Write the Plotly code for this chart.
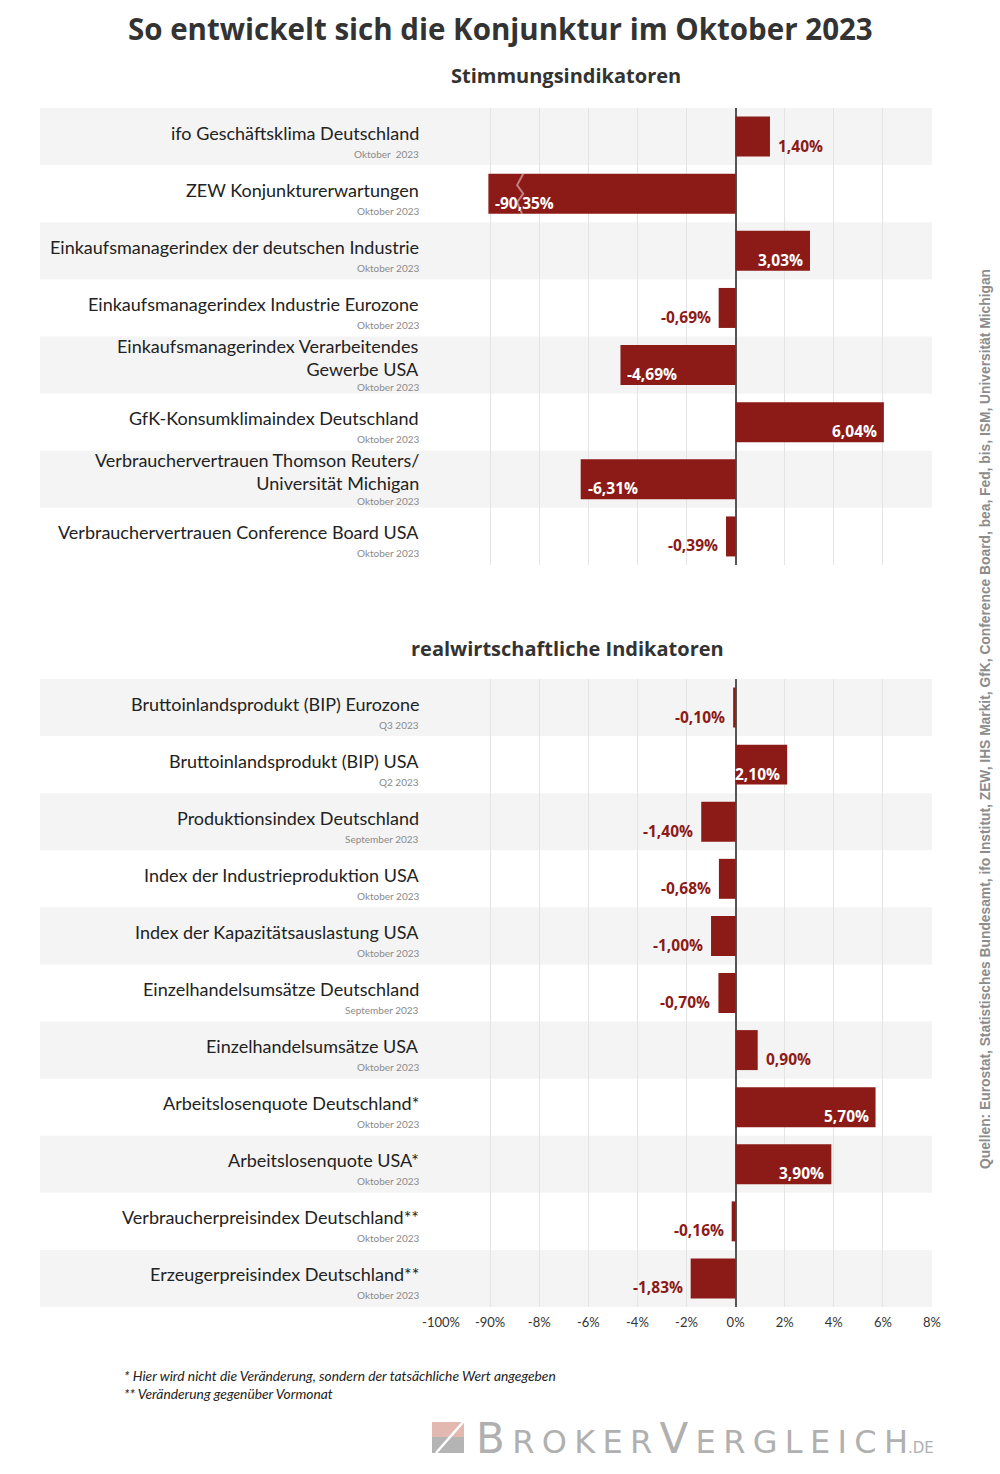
import plotly.graph_objects as go

# ---------------- data ----------------
top_labels = [
    "ifo Geschäftsklima Deutschland",
    "ZEW Konjunkturerwartungen",
    "Einkaufsmanagerindex der deutschen Industrie",
    "Einkaufsmanagerindex Industrie Eurozone",
    "Einkaufsmanagerindex Verarbeitendes<br>Gewerbe USA",
    "GfK-Konsumklimaindex Deutschland",
    "Verbrauchervertrauen Thomson Reuters/<br>Universität Michigan",
    "Verbrauchervertrauen Conference Board USA",
]
top_periods = ["Oktober  2023"] + ["Oktober 2023"] * 7
top_values = [1.40, -90.35, 3.03, -0.69, -4.69, 6.04, -6.31, -0.39]

bot_labels = [
    "Bruttoinlandsprodukt (BIP) Eurozone",
    "Bruttoinlandsprodukt (BIP) USA",
    "Produktionsindex Deutschland",
    "Index der Industrieproduktion USA",
    "Index der Kapazitätsauslastung USA",
    "Einzelhandelsumsätze Deutschland",
    "Einzelhandelsumsätze USA",
    "Arbeitslosenquote Deutschland*",
    "Arbeitslosenquote USA*",
    "Verbraucherpreisindex Deutschland**",
    "Erzeugerpreisindex Deutschland**",
]
bot_periods = ["Q3 2023", "Q2 2023", "September 2023", "Oktober 2023", "Oktober 2023",
               "September 2023", "Oktober 2023", "Oktober 2023", "Oktober 2023",
               "Oktober 2023", "Oktober 2023"]
bot_values = [-0.10, 2.10, -1.40, -0.68, -1.00, -0.70, 0.90, 5.70, 3.90, -0.16, -1.83]

tick_values = [-100, -90, -8, -6, -4, -2, 0, 2, 4, 6, 8]
tick_labels = ["-100%", "-90%", "-8%", "-6%", "-4%", "-2%", "0%", "2%", "4%", "6%", "8%"]

# ---------------- styling ----------------
BAR = "#8c1a17"
TXT = "#222222"
BAND = "#f4f4f4"
GRID = "#e4e4e4"
LABEL_FONT = "Lato"
W, H = 1000, 1474


def axis_pos(v):
    """Broken axis: -100..-90 is squeezed into the slot left of -8."""
    if v >= -8:
        return v
    return -10 + (v + 90) / 5.0


def fmt(v):
    return f"{v:.2f}".replace(".", ",") + "%"


def py(px):
    return 1 - px / H


fig = go.Figure()
shapes = []
annotations = []

panels = [
    dict(labels=top_labels, periods=top_periods, values=top_values, yax="y", xax="x"),
    dict(labels=bot_labels, periods=bot_periods, values=bot_values, yax="y2", xax="x2"),
]

for p in panels:
    n = len(p["values"])
    pos = [axis_pos(v) for v in p["values"]]
    fig.add_trace(go.Bar(
        x=pos, y=list(range(n)), orientation="h", width=0.7,
        marker=dict(color=BAR, line=dict(width=0)),
        xaxis=p["xax"], yaxis=p["yax"], hoverinfo="skip", showlegend=False,
    ))
    for i in range(n):
        if i % 2 == 0:
            shapes.append(dict(type="rect", xref="paper", yref=p["yax"], x0=0.04, x1=0.932,
                               y0=i - 0.5, y1=i + 0.5, fillcolor=BAND, line=dict(width=0),
                               layer="below"))
        two = "<br>" in p["labels"][i]
        annotations.append(dict(
            xref="paper", yref=p["yax"], x=0.421, y=i, xanchor="right", yanchor="middle",
            text=p["labels"][i], showarrow=False, align="right",
            yshift=8 if two else 4,
            font=dict(family=LABEL_FONT, size=18, color=TXT),
        ))
        annotations.append(dict(
            xref="paper", yref=p["yax"], x=0.421, y=i, xanchor="right", yanchor="middle",
            text=p["periods"][i], showarrow=False, yshift=-22 if two else -17,
            font=dict(family=LABEL_FONT, size=10, color="#8a8a8a"),
        ))
        v = p["values"][i]
        inside = abs(v) > 2
        if v >= 0:
            xanchor, xshift = ("right", -5) if inside else ("left", 6)
        else:
            xanchor, xshift = ("left", 5) if inside else ("right", -6)
        annotations.append(dict(
            xref=p["xax"], yref=p["yax"], x=pos[i], y=i, xanchor=xanchor, yanchor="middle",
            xshift=xshift, yshift=-9, text="<b>" + fmt(v) + "</b>", showarrow=False,
            font=dict(family="Open Sans", size=15.5, color="white" if inside else BAR),
        ))

# break mark on the squeezed bar
brk = axis_pos(-90) + 1.25
zi = top_values.index(min(top_values))
shapes.append(dict(
    type="path", xref="x", yref="y", layer="above",
    path=(f"M {brk + 0.1},{zi - 0.35} L {brk - 0.15},{zi - 0.15} L {brk + 0.1},{zi} "
          f"L {brk - 0.15},{zi + 0.15} L {brk + 0.05},{zi + 0.35}"),
    line=dict(color="rgba(255,255,255,0.45)", width=2),
))

tickpos = [axis_pos(t) for t in tick_values]
xcommon = dict(range=[-12, 8], domain=[0.441, 0.932], tickvals=tickpos, ticktext=tick_labels,
               showgrid=True, gridcolor=GRID, gridwidth=1, zeroline=True, zerolinecolor="#555555",
               zerolinewidth=1.5, showline=False, ticks="", fixedrange=True, automargin=False,
               ticklabelstandoff=6,
               tickfont=dict(family=LABEL_FONT, size=13, color="#333333"))
ycommon = dict(showticklabels=False, showgrid=False, zeroline=False, automargin=False,
               fixedrange=True)
fig.update_layout(
    xaxis=dict(xcommon, anchor="y", showticklabels=False),
    xaxis2=dict(xcommon, anchor="y2", showticklabels=True),
    yaxis=dict(ycommon, range=[7.5, -0.5], domain=[py(565), py(108)], anchor="x"),
    yaxis2=dict(ycommon, range=[10.5, -0.5], domain=[py(1307), py(679)], anchor="x2"),
    bargap=0.3,
)

# logo text with widened letter spacing
logo_parts = [("B", 42), ("R", 32), ("O", 32), ("K", 32), ("E", 32), ("R", 32),
              ("V", 42), ("E", 32), ("R", 32), ("G", 32), ("L", 32), ("E", 32),
              ("I", 32), ("C", 32), ("H", 32)]
gap = "<span style='font-size:23px'> </span>"
logo_text = gap.join(f"<span style='font-size:{s}px'>{c}</span>" for c, s in logo_parts)
logo_text += "<span style='font-size:15px'>.DE</span>"

# titles & notes
annotations += [
    dict(xref="paper", yref="paper", x=0.5, y=py(28), text="<b>So entwickelt sich die Konjunktur im Oktober 2023</b>",
         showarrow=False, xanchor="center", yanchor="middle",
         font=dict(family="Open Sans", size=29.5, color="#333333")),
    dict(xref="paper", yref="paper", x=0.566, y=py(76), text="<b>Stimmungsindikatoren</b>",
         showarrow=False, xanchor="center", yanchor="middle",
         font=dict(family="Open Sans", size=20, color="#333333")),
    dict(xref="paper", yref="paper", x=0.567, y=py(648), text="<b>realwirtschaftliche Indikatoren</b>",
         showarrow=False, xanchor="center", yanchor="middle",
         font=dict(family="Open Sans", size=20, color="#333333")),
    dict(xref="paper", yref="paper", x=0.122, y=py(1375),
         text="<i>* Hier wird nicht die Veränderung, sondern der tatsächliche Wert angegeben</i>",
         showarrow=False, xanchor="left", yanchor="middle",
         font=dict(family=LABEL_FONT, size=13.8, color=TXT)),
    dict(xref="paper", yref="paper", x=0.122, y=py(1393),
         text="<i>** Veränderung gegenüber Vormonat</i>",
         showarrow=False, xanchor="left", yanchor="middle",
         font=dict(family=LABEL_FONT, size=13.8, color=TXT)),
    dict(xref="paper", yref="paper", x=0.986, y=py(719), textangle=-90,
         text="<b>Quellen: Eurostat, Statistisches Bundesamt, ifo Institut, ZEW, IHS Markit, GfK, "
              "Conference Board, bea, Fed, bis, ISM, Universität Michigan</b>",
         showarrow=False, xanchor="center", yanchor="middle",
         font=dict(family="Liberation Sans", size=13.8, color="#8c8c8c")),
    dict(xref="paper", yref="paper", x=0.474, y=py(1438), text=logo_text,
         showarrow=False, xanchor="left", yanchor="middle",
         font=dict(family="DejaVu Sans ExtraLight, DejaVu Sans", size=32, color="#b0b0b0")),
]

# logo icon
shapes += [
    dict(type="rect", xref="paper", yref="paper", x0=0.432, x1=0.464, y0=py(1437), y1=py(1422),
         fillcolor="#e2b8b0", line=dict(width=0)),
    dict(type="rect", xref="paper", yref="paper", x0=0.432, x1=0.464, y0=py(1453), y1=py(1437),
         fillcolor="#b4b4b4", line=dict(width=0)),
    dict(type="line", xref="paper", yref="paper", x0=0.436, x1=0.464, y0=py(1453), y1=py(1421),
         line=dict(color="white", width=2.5)),
]

fig.update_layout(
    width=W, height=H, margin=dict(l=0, r=0, t=0, b=0, pad=0, autoexpand=False),
    paper_bgcolor="white", plot_bgcolor="rgba(0,0,0,0)",
    shapes=shapes, annotations=annotations, showlegend=False,
)

fig.write_html("out.html", config={"displayModeBar": False, "responsive": False},
               post_script="document.body.style.margin='0';document.body.style.padding='0';")
